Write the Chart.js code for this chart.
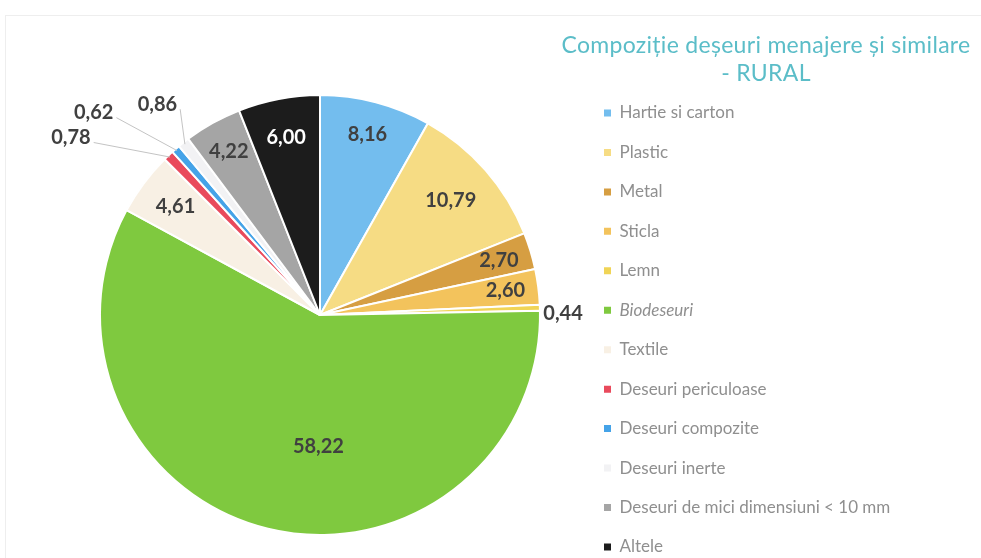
<!DOCTYPE html>
<html>
<head>
<meta charset="utf-8">
<script src="https://cdn.jsdelivr.net/npm/chart.js@4.4.1/dist/chart.umd.min.js"></script>
<style>
html, body { margin: 0; padding: 0; background: #fff; }
</style>
</head>
<body>
<canvas id="pieChart" width="981" height="558"></canvas>
<script>
let categories = ['Hartie si carton', 'Plastic', 'Metal', 'Sticla', 'Lemn', 'Biodeseuri', 'Textile',
  'Deseuri periculoase', 'Deseuri compozite', 'Deseuri inerte', 'Deseuri de mici dimensiuni < 10 mm', 'Altele'];
let values = [8.16, 10.79, 2.70, 2.60, 0.44, 58.22, 4.61, 0.78, 0.62, 0.86, 4.22, 6.00];
let sliceColors = ['#73bdee', '#f6dc84', '#d69e42', '#f3c35c', '#f0d456', '#7fc93f', '#f8f0e4',
  '#e94a5c', '#45a3e8', '#f2f2f4', '#a5a5a5', '#1c1c1c'];
let titleLines = ['Compoziție deșeuri menajere și similare', '- RURAL'];

// label placement (inside: fraction of radius + turn, callouts: turn in degrees + distance)
let insideRadius = { def: 0.85, 1: 0.79, 5: 0.6, 6: 0.82, 11: 0.82 };
let insideTurn = { 5: -13 };
let callouts = {
  4: { turn: 1.5, dist: 1.015, line: false },
  7: { turn: -11, dist: 1.39, line: true },
  8: { turn: -7.2, dist: 1.38, line: true },
  9: { turn: 0.7, dist: 1.21, line: true }
};

let fmt = v => v.toFixed(2).replace('.', ',');

// legend geometry: boxes start at x=603, pie centred at x=319.5
let legendFont = { family: 'Lato', size: 17, lineHeight: '39px' };
let legendPad = 0.45;
let legendLeft = 603 - legendPad;
let probe = document.createElement('canvas').getContext('2d');
probe.font = legendFont.size + 'px ' + legendFont.family;
let longest = Math.max(...categories.map(t => probe.measureText(t).width));
let legendWidth = legendPad + 7 + legendFont.size / 2 + longest + 10;
let padRight = 981 - legendLeft - legendWidth - 1;
let padLeft = 2 * 319.5 - legendLeft;

let frame = {
  id: 'frame',
  beforeDraw(chart) {
    let c = chart.ctx;
    c.save();
    c.fillStyle = '#fff';
    c.fillRect(0, 0, chart.width, chart.height);
    c.strokeStyle = '#eeeeee';
    c.lineWidth = 1;
    c.strokeRect(5.5, 15.5, chart.width, chart.height);
    c.restore();
  }
};

let sideTitle = {
  id: 'sideTitle',
  afterDraw(chart) {
    let c = chart.ctx;
    c.save();
    c.font = '23px Lato';
    c.letterSpacing = '0.3px';
    c.fillStyle = '#5bbdc8';
    c.textAlign = 'center';
    c.textBaseline = 'middle';
    titleLines.forEach((t, i) => c.fillText(t, 766, 46 + i * 28));
    c.letterSpacing = '0px';

    // italic legend entry (Biodeseuri)
    let hb = chart.legend.legendHitBoxes[5];
    c.font = 'italic 17px Lato';
    c.fillStyle = '#8f8f8f';
    c.textAlign = 'left';
    c.fillText(categories[5], hb.left + 7 + 8.5, hb.top + 8.5);
    c.restore();
  }
};

let valueLabels = {
  id: 'valueLabels',
  afterDatasetsDraw(chart) {
    let c = chart.ctx;
    let meta = chart.getDatasetMeta(0);
    c.save();
    c.font = 'bold 20px Lato';
    c.textBaseline = 'middle';
    meta.data.forEach((arc, i) => {
      let p = arc.getProps(['x', 'y', 'startAngle', 'endAngle', 'outerRadius'], true);
      let mid = (p.startAngle + p.endAngle) / 2;
      let txt = fmt(values[i]);
      let co = callouts[i];
      if (!co) {
        let f = insideRadius[i] || insideRadius.def;
        let a = mid + (insideTurn[i] || 0) * Math.PI / 180;
        c.fillStyle = i === 11 ? '#ffffff' : '#404040';
        c.textAlign = 'center';
        c.fillText(txt, p.x + Math.cos(a) * p.outerRadius * f, p.y + Math.sin(a) * p.outerRadius * f);
        return;
      }
      let a = mid + co.turn * Math.PI / 180;
      let lx = p.x + Math.cos(a) * p.outerRadius * co.dist;
      let ly = p.y + Math.sin(a) * p.outerRadius * co.dist;
      c.fillStyle = '#404040';
      if (!co.line) {
        c.textAlign = 'left';
        c.fillText(txt, lx, ly);
        return;
      }
      c.textAlign = 'center';
      c.fillText(txt, lx, ly);
      let w = c.measureText(txt).width;
      c.beginPath();
      c.strokeStyle = '#c4c4c4';
      c.lineWidth = 1;
      c.moveTo(lx + w / 2 + 3, ly + 5);
      c.lineTo(p.x + Math.cos(mid) * p.outerRadius * 0.99, p.y + Math.sin(mid) * p.outerRadius * 0.99);
      c.stroke();
    });
    c.restore();
  }
};

let chart = new Chart(document.getElementById('pieChart'), {
  type: 'pie',
  data: {
    labels: categories,
    datasets: [{
      data: values,
      backgroundColor: sliceColors,
      borderColor: '#ffffff',
      borderWidth: 2,
      radius: 220,
      hoverOffset: 0
    }]
  },
  options: {
    responsive: false,
    animation: false,
    layout: { padding: { left: padLeft, right: padRight, top: 72, bottom: 0 } },
    plugins: {
      tooltip: { enabled: false },
      legend: {
        position: 'right',
        align: 'start',
        maxWidth: legendWidth + 1,
        title: { display: true, text: '', padding: { top: 22.05, bottom: 0 }, font: { size: 10, lineHeight: 1 } },
        labels: {
          boxWidth: 7,
          boxHeight: 7,
          padding: legendPad,
          color: '#8f8f8f',
          font: legendFont,
          generateLabels() {
            return categories.map((name, i) => ({
              text: i < categories.length - 1 ? [name] : name,
              fillStyle: sliceColors[i],
              strokeStyle: sliceColors[i],
              lineWidth: 0,
              fontColor: i === 5 ? 'rgba(0,0,0,0)' : '#8f8f8f',
              hidden: false,
              index: i
            }));
          }
        }
      }
    }
  },
  plugins: [frame, valueLabels, sideTitle]
});
</script>
</body>
</html>
